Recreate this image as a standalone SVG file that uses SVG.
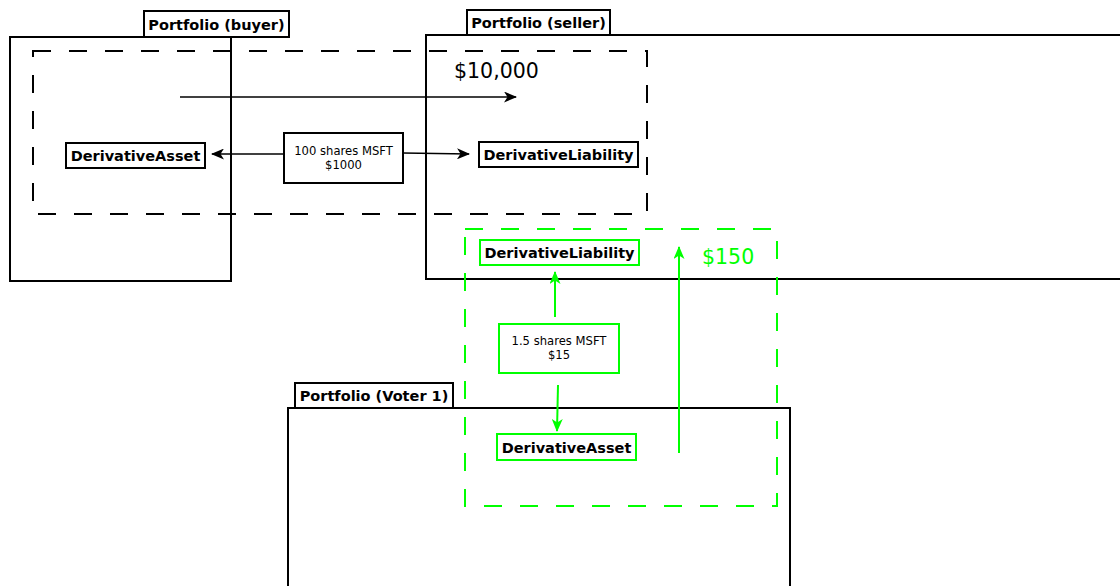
<svg xmlns="http://www.w3.org/2000/svg" width="1120" height="586" viewBox="0 0 1120 586">
  <style>
    .frame { fill: none; stroke: #000; stroke-width: 2; }
    .tab { fill: #fff; stroke: #000; stroke-width: 2; }
    .node { fill: #fff; stroke: #000; stroke-width: 2; }
    .gnode { fill: #fff; stroke: #00ff00; stroke-width: 2; }
    .group { fill: none; stroke: #000; stroke-width: 2; stroke-dasharray: 18 18; }
    .ggroup { fill: none; stroke: #00ff00; stroke-width: 2; stroke-dasharray: 18 18; }
    .bold { font-family: "DejaVu Sans", sans-serif; font-weight: bold; font-size: 14.5px; fill: #000; text-anchor: middle; }
    .small { font-family: "DejaVu Sans", sans-serif; font-size: 11.6px; fill: #000; text-anchor: middle; }
    .amount { font-family: "DejaVu Sans", sans-serif; font-size: 20.5px; }
    .edge { fill: none; stroke: #000; stroke-width: 1.6; }
    .gedge { fill: none; stroke: #00ff00; stroke-width: 2; }
  </style>
  <defs>
    <marker id="arrow" markerUnits="userSpaceOnUse" markerWidth="13" markerHeight="11" viewBox="0 0 13 11" refX="12" refY="5.5" orient="auto">
      <path d="M0,0 L13,5.5 L0,11 L3.5,5.5 z" fill="#000"/>
    </marker>
    <marker id="garrow" markerUnits="userSpaceOnUse" markerWidth="13" markerHeight="11" viewBox="0 0 13 11" refX="12" refY="5.5" orient="auto">
      <path d="M0,0 L13,5.5 L0,11 L3.5,5.5 z" fill="#00ff00"/>
    </marker>
  </defs>
  <rect width="1120" height="586" fill="#fff"/>

  <!-- portfolio frames -->
  <g id="portfolio-buyer">
    <rect class="frame" x="10" y="37" width="221" height="244"/>
    <rect class="tab" x="144" y="11" width="145" height="26"/>
    <text class="bold" x="216.5" y="29.5">Portfolio (buyer)</text>
  </g>
  <g id="portfolio-seller">
    <rect class="frame" x="426" y="35" width="710" height="244"/>
    <rect class="tab" x="467" y="10" width="143" height="25"/>
    <text class="bold" x="538.5" y="28">Portfolio (seller)</text>
  </g>
  <g id="portfolio-voter1">
    <rect class="frame" x="288" y="408" width="502" height="200"/>
    <rect class="tab" x="295" y="383" width="158" height="25"/>
    <text class="bold" x="374" y="401">Portfolio (Voter 1)</text>
  </g>

  <!-- contract groupings -->
  <g id="contract-main">
    <rect class="group" x="33" y="51" width="614" height="163"/>
    <text class="amount" x="454" y="78" fill="#000">$10,000</text>
  </g>
  <g id="contract-voter">
    <rect class="ggroup" x="465" y="229" width="312" height="277"/>
    <text class="amount" x="702" y="264" fill="#00ff00">$150</text>
  </g>

  <!-- connectors -->
  <g id="connectors">
    <line class="edge" x1="180" y1="97" x2="516" y2="97" marker-end="url(#arrow)"/>
    <line class="edge" x1="284" y1="154" x2="212" y2="154" marker-end="url(#arrow)"/>
    <line class="edge" x1="403" y1="153" x2="469" y2="154" marker-end="url(#arrow)"/>
    <line class="gedge" x1="555" y1="317" x2="555" y2="272" marker-end="url(#garrow)"/>
    <line class="gedge" x1="679" y1="453" x2="679" y2="247" marker-end="url(#garrow)"/>
    <line class="gedge" x1="558" y1="385" x2="557" y2="431" marker-end="url(#garrow)"/>
  </g>

  <!-- nodes -->
  <g id="buyer-derivative-asset">
    <rect class="node" x="66" y="143" width="139" height="25"/>
    <text class="bold" x="135.5" y="161">DerivativeAsset</text>
  </g>
  <g id="seller-derivative-liability">
    <rect class="node" x="479" y="142" width="159" height="25"/>
    <text class="bold" x="558.5" y="160">DerivativeLiability</text>
  </g>
  <g id="main-terms">
    <rect class="node" x="284" y="133" width="119" height="50"/>
    <text class="small" x="343.5" y="154.5">100 shares MSFT</text>
    <text class="small" x="343.5" y="168.5">$1000</text>
  </g>
  <g id="voter-derivative-liability">
    <rect class="gnode" x="480" y="240" width="159" height="25"/>
    <text class="bold" x="559.5" y="258">DerivativeLiability</text>
  </g>
  <g id="voter-terms">
    <rect class="gnode" x="499" y="324" width="120" height="49"/>
    <text class="small" x="559" y="345">1.5 shares MSFT</text>
    <text class="small" x="559" y="359">$15</text>
  </g>
  <g id="voter-derivative-asset">
    <rect class="gnode" x="497" y="434" width="139" height="26"/>
    <text class="bold" x="566.5" y="452.5">DerivativeAsset</text>
  </g>
</svg>
